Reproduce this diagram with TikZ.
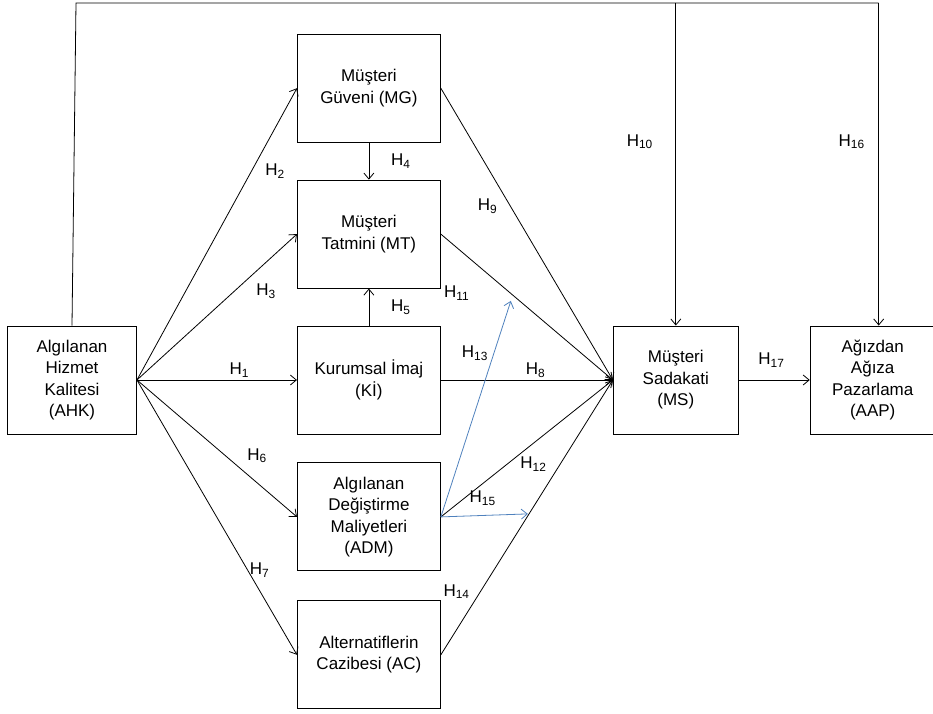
\documentclass[tikz,border=0pt]{standalone}
\usepackage{fontspec}
\setmainfont{Liberation Sans}
\usepackage{tikz}
\usetikzlibrary{positioning,arrows.meta}
\definecolor{hblue}{RGB}{79,129,189}

\begin{document}
\begin{tikzpicture}[node distance=37pt,
    >={Straight Barb[length=6pt,width=10pt]},
    every node/.style={font=\fontsize{17}{21.5}\selectfont},
    var/.style={draw,line width=0.9pt,align=center,
                minimum width=143pt,minimum height=108pt,inner sep=2pt}]
    \useasboundingbox (-72pt,-333pt) rectangle (861pt,380pt);
    \node[var,minimum width=129pt]                   (ahk) {Algılanan\\Hizmet\\Kalitesi\\(AHK)};
    \node[var,right=160pt of ahk]                    (ki)  {Kurumsal İmaj\\(Kİ)};
    \node[var,above=of ki]                           (mt)  {Müşteri\\Tatmini (MT)};
    \node[var,above=of mt]                           (mg)  {Müşteri\\Güveni  (MG)};
    \node[var,below=28pt of ki]                      (adm) {Algılanan\\Değiştirme\\Maliyetleri\\(ADM)};
    \node[var,below=29pt of adm]                     (ac)  {Alternatiflerin\\Cazibesi (AC)};
    \node[var,minimum width=125pt,right=172pt of ki] (ms)  {Müşteri\\Sadakati\\(MS)};
    \node[var,minimum width=125pt,right=71pt of ms]  (aap) {Ağızdan\\Ağıza\\Pazarlama\\(AAP)};
    %
    \coordinate (tl)    at (4pt,377pt);
    \coordinate (aapin) at ([xshift=6pt]aap.north);
    \coordinate (tr)    at (aapin |- tl);
    \coordinate (tm)    at (ms.north |- tl);
    \coordinate (h13)   at ([shift={(70pt,216pt)}]adm.east);
    \coordinate (h15)   at ([shift={(87pt,3pt)}]adm.east);
    %
    \draw[line width=0.8pt] (ahk.north) -- (tl) -- (tr);
    \path[->,line width=0.8pt]
        (ahk.east) edge node[pos=.64,yshift=10pt]                 {H\textsubscript{1}}  (ki.west)
        (ahk.east) edge node[pos=.75,xshift=18pt,yshift=-10pt]    {H\textsubscript{2}}  (mg.west)
        (ahk.east) edge node[pos=.72,xshift=14pt,yshift=-16pt]    {H\textsubscript{3}}  (mt.west)
        (ahk.east) edge node[pos=.67,xshift=13pt,yshift=16pt]     {H\textsubscript{6}}  (adm.west)
        (ahk.east) edge node[pos=.71,xshift=9pt,yshift=5pt]       {H\textsubscript{7}}  (ac.west)
        (mg.south) edge node[xshift=32pt]                         {H\textsubscript{4}}  (mt.north)
        (ki.north) edge node[xshift=32pt]                         {H\textsubscript{5}}  (mt.south)
        (mg.east)  edge node[pos=.37,xshift=-17pt,yshift=-10pt]   {H\textsubscript{9}}  (ms.west)
        (mt.east)  edge node[pos=.22,xshift=-22pt,yshift=-27pt]   {H\textsubscript{11}} (ms.west)
        (ki.east)  edge node[pos=.55,yshift=10pt]                 {H\textsubscript{8}}  (ms.west)
        (adm.east) edge node[pos=.48,xshift=10pt,yshift=-13pt]    {H\textsubscript{12}} (ms.west)
        (ac.east)  edge node[pos=.19,xshift=-17pt,yshift=11pt]    {H\textsubscript{14}} (ms.west)
        (adm.east) edge[draw=hblue] node[pos=.73,xshift=-17pt,yshift=6pt] {H\textsubscript{13}} (h13)
        (adm.east) edge[draw=hblue] node[pos=.48,yshift=17pt]     {H\textsubscript{15}} (h15)
        (tm)       edge node[pos=.43,xshift=-36pt]                {H\textsubscript{10}} (ms.north)
        (tr)       edge node[pos=.43,xshift=-27pt]                {H\textsubscript{16}} (aapin)
        (ms.east)  edge node[pos=.46,yshift=20pt]                 {H\textsubscript{17}} (aap.west)
    ; %-path-%
\end{tikzpicture}
\end{document}
